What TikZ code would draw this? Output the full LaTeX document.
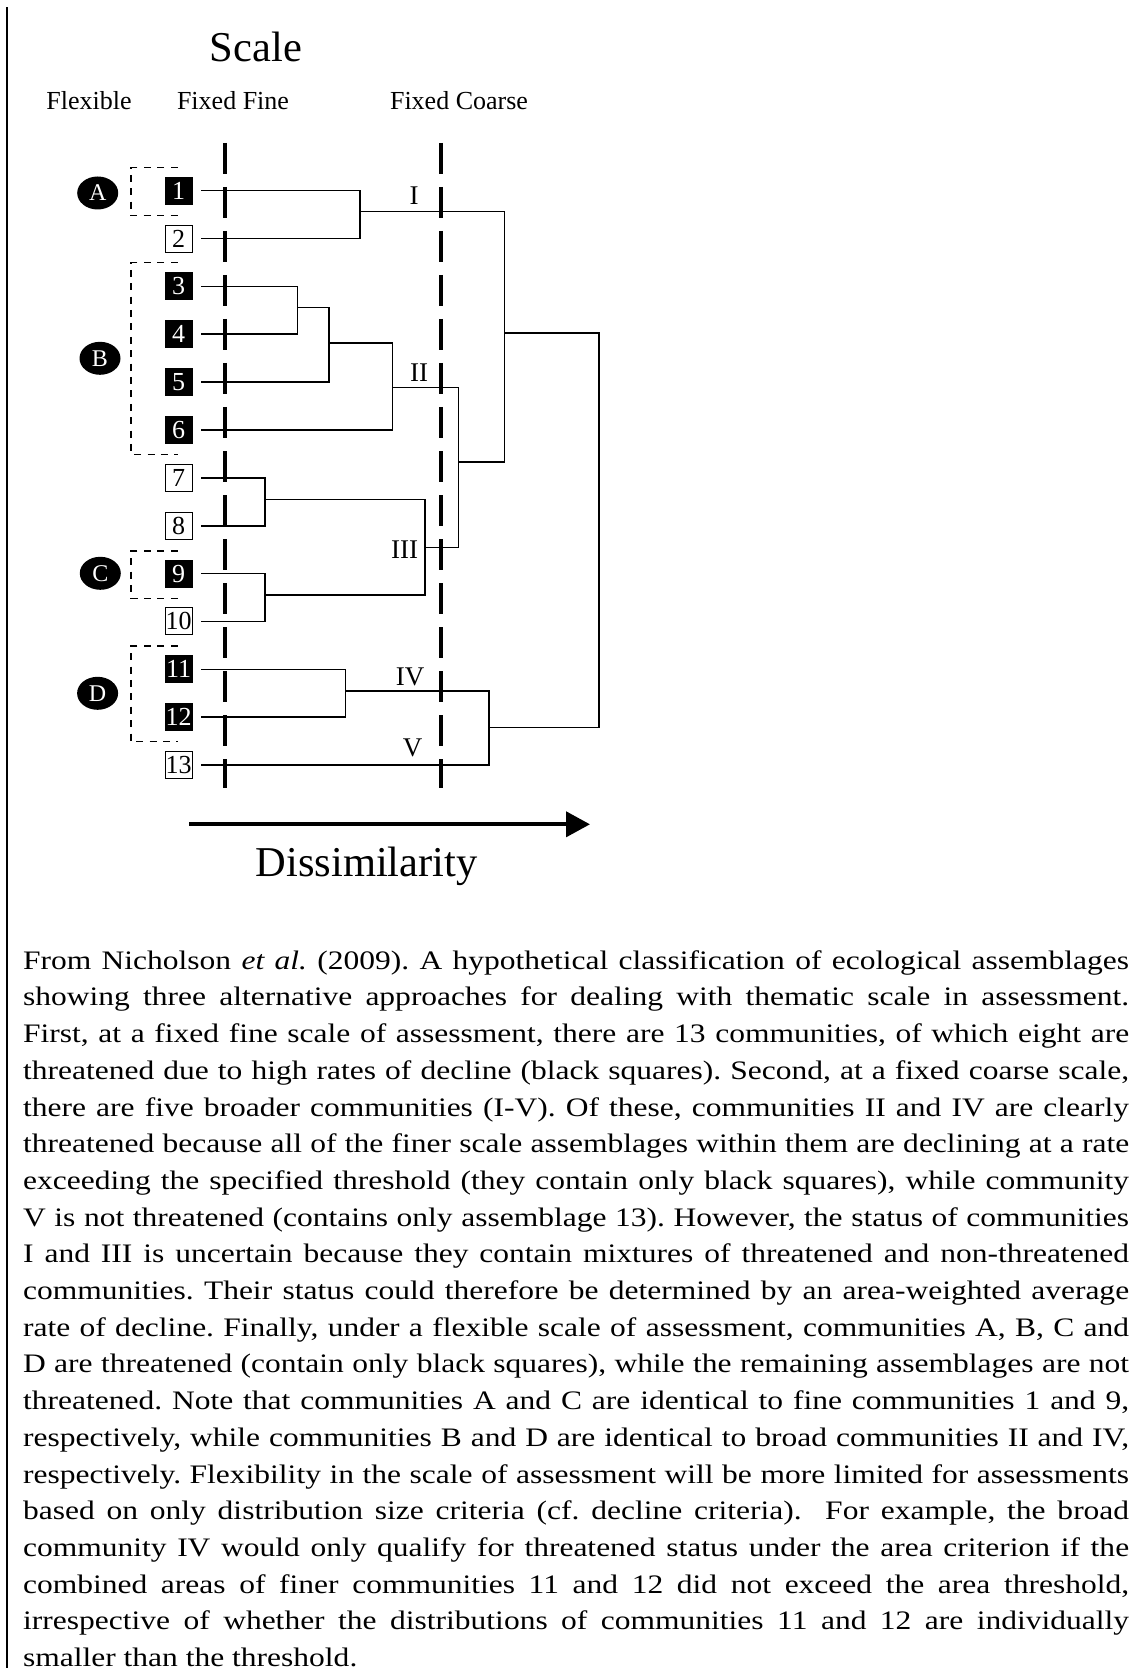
\documentclass[tikz,border=0pt]{standalone}
\usepackage{fontspec}
\setmainfont{Liberation Serif}
\newfontfamily\notefont{Liberation Serif}[FakeStretch=1.18]
\usetikzlibrary{arrows.meta,shapes.geometric,positioning}

\begin{document}
\frenchspacing
\begin{tikzpicture}[x=0.5pt,y=-0.5pt,
        leaf/.style={draw,line width=0.5pt,minimum width=13.5pt,minimum height=13.5pt,inner sep=0pt,outer xsep=4.5pt,font=\fontsize{13}{13}\selectfont},
        dark/.style={leaf,fill=black,text=white},
        pale/.style={leaf,fill=white},
        tree/.style={line width=0.8pt},
        cut/.style={line width=2pt,dash pattern=on 15.5pt off 6.5pt},
        group/.style={line width=0.65pt,dash pattern=on 3.5pt off 3.2pt},
        tag/.style={ellipse,fill=black,text=white,minimum width=20.5pt,minimum height=16.5pt,inner sep=0pt,font=\fontsize{12}{12}\selectfont},
        roman/.style={anchor=base,inner sep=0pt,font=\fontsize{13.5}{13.5}\selectfont},
        head/.style={anchor=base,inner sep=0pt,font=\fontsize{13}{13}\selectfont},
        big/.style={anchor=base,inner sep=0pt,font=\fontsize{21.25}{21.25}\selectfont}]
        \useasboundingbox (0,0) rectangle (1137,1668);

        \draw[line width=1pt] (6.5,7.3) -- (6.5,1668);

        \node[big] (scale) at (255.9,61.7) {Scale};
        \node[head] (flexible) at (89,110) {Flexible};
        \node[head] (fine) at (233,110) {Fixed Fine};
        \node[head] (coarse) at (459,110) {Fixed Coarse};

        \draw[cut] (224.7,143) -- (224.7,788);
        \draw[cut] (441,143) -- (441,788);

        \node[dark] (n1) at (178.7,190.7) {1};
        \node[pale] (n2) at (178.7,238.6) {2};
        \node[dark] (n3) at (178.7,286.4) {3};
        \node[dark] (n4) at (178.7,334.3) {4};
        \node[dark] (n5) at (178.7,382.1) {5};
        \node[dark] (n6) at (178.7,430) {6};
        \node[pale] (n7) at (178.7,477.9) {7};
        \node[pale] (n8) at (178.7,525.7) {8};
        \node[dark] (n9) at (178.7,573.6) {9};
        \node[pale] (n10) at (178.7,621.4) {10};
        \node[dark] (n11) at (178.7,669.3) {11};
        \node[dark] (n12) at (178.7,717.2) {12};
        \node[pale] (n13) at (178.7,765) {13};

        \node[tag] (gA) at (97.7,193) {A};
        \node[tag] (gB) at (100,358.3) {B};
        \node[tag] (gC) at (100.3,573.3) {C};
        \node[tag] (gD) at (97.6,693.3) {D};

        \draw[group] (177.5,167.7) -- (131,167.7) -- (131,215.7) -- (177.5,215.7);
        \draw[group] (177.5,262.7) -- (131,262.7) -- (131,454.3) -- (177.5,454.3);
        \draw[group] (177.5,551) -- (131,551) -- (131,598.7) -- (177.5,598.7);
        \draw[group] (177.5,646) -- (131,646) -- (131,741.7) -- (177.5,741.7);

        \coordinate (j12) at (360,211.7);
        \coordinate (j34) at (297.3,307.7);
        \coordinate (j345) at (328.7,343.3);
        \coordinate (j3456) at (392.3,387.7);
        \coordinate (j78) at (265.2,499.3);
        \coordinate (j910) at (265.2,595);
        \coordinate (j7to10) at (424.8,547.3);
        \coordinate (jmid) at (458.5,461.7);
        \coordinate (jtop) at (504.4,333.3);
        \coordinate (j1112) at (345.6,691);
        \coordinate (jlow) at (488.7,727.3);
        \coordinate (jroot) at (599,530);

        \draw[tree] (n1.east) -| (j12) |- (n2.east);
        \draw[tree] (n3.east) -| (j34) |- (n4.east);
        \draw[tree] (j34) -| (j345) |- (n5.east);
        \draw[tree] (j345) -| (j3456) |- (n6.east);
        \draw[tree] (n7.east) -| (j78) |- (n8.east);
        \draw[tree] (n9.east) -| (j910) |- (n10.east);
        \draw[tree] (j78) -| (j7to10) |- (j910);
        \draw[tree] (j3456) -| (jmid) |- (j7to10);
        \draw[tree] (j12) -| (jtop) |- (jmid);
        \draw[tree] (n11.east) -| (j1112) |- (n12.east);
        \draw[tree] (j1112) -| (jlow) |- (n13.east);
        \draw[tree] (jtop) -| (jroot) |- (jlow);

        \node[roman] (cI) at (414,205) {I};
        \node[roman] (cII) at (419,381.7) {II};
        \node[roman] (cIII) at (404.5,558.3) {III};
        \node[roman] (cIV) at (410,685) {IV};
        \node[roman] (cV) at (412.5,756.7) {V};

        \coordinate (tail) at (189.3,824.3);
        \coordinate (tip) at (590,824.3);
        \draw[line width=2pt,-{Triangle[length=12pt,width=12.5pt]}] (tail) -- (tip);
        \node[big] (dissimilarity) at (366.7,876) {Dissimilarity};

        \node[anchor=base west,inner sep=0pt,text width=553pt,align=justify,font=\notefont\fontsize{13.35}{18.35}\selectfont] (caption) at (22.7,969.2) {From Nicholson \textit{et al.} (2009). A hypothetical classification of ecological assemblages\linebreak
        showing three alternative approaches for dealing with thematic scale in assessment.\linebreak
        First, at a fixed fine scale of assessment, there are 13 communities, of which eight are\linebreak
        threatened due to high rates of decline (black squares). Second, at a fixed coarse scale,\linebreak
        there are five broader communities (I-V). Of these, communities II and IV are clearly\linebreak
        threatened because all of the finer scale assemblages within them are declining at a rate\linebreak
        exceeding the specified threshold (they contain only black squares), while community\linebreak
        V is not threatened (contains only assemblage 13). However, the status of communities\linebreak
        I and III is uncertain because they contain mixtures of threatened and non-threatened\linebreak
        communities. Their status could therefore be determined by an area-weighted average\linebreak
        rate of decline. Finally, under a flexible scale of assessment, communities A, B, C and\linebreak
        D are threatened (contain only black squares), while the remaining assemblages are not\linebreak
        threatened. Note that communities A and C are identical to fine communities 1 and 9,\linebreak
        respectively, while communities B and D are identical to broad communities II and IV,\linebreak
        respectively. Flexibility in the scale of assessment will be more limited for assessments\linebreak
        based on only distribution size criteria (cf. decline criteria).\ \ For example, the broad\linebreak
        community IV would only qualify for threatened status under the area criterion if the\linebreak
        combined areas of finer communities 11 and 12 did not exceed the area threshold,\linebreak
        irrespective of whether the distributions of communities 11 and 12 are individually\linebreak
        smaller than the threshold.};

    \end{tikzpicture}
\end{document}
